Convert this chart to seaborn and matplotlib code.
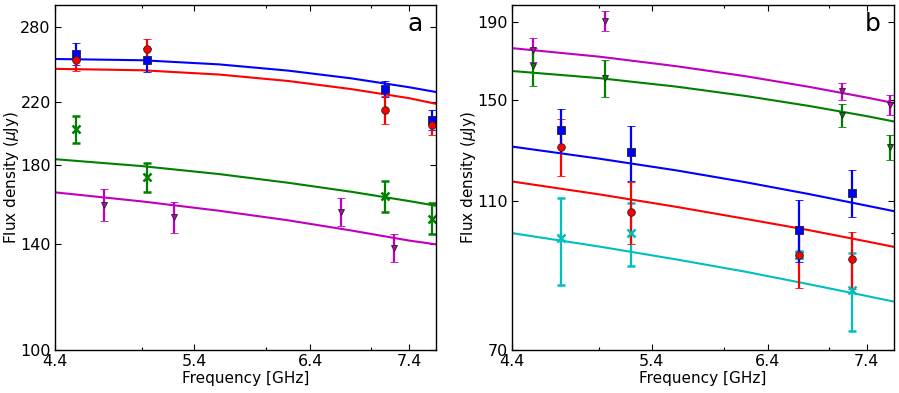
import numpy as np
import pandas as pd
import matplotlib
matplotlib.use('Agg')
import matplotlib.pyplot as plt
import seaborn as sns
from matplotlib.ticker import FixedLocator, FixedFormatter, NullFormatter, NullLocator

# 频率 (GHz)
freq_a = [4.54, 5.04, 7.14, 7.65]
freq_b = [4.73, 5.24, 6.70, 7.24]
fit_freq = [4.4, 5.0, 5.6, 6.2, 6.8, 7.4, 7.7]

# panel a 数据点
blue_a = [256.8, 252.0, 229.6, 208.0]
blue_a_err = [9.0, 9.5, 6.0, 6.5]
red_a = [251.5, 261.0, 214.8, 204.5]
red_a_err = [8.0, 8.0, 9.5, 6.5]
green_a = [202.0, 173.5, 163.3, 152.0]
green_a_err = [8.5, 8.0, 8.0, 7.5]
magenta_a = [158.8, 152.5, 155.2, 138.5]
magenta_a_err = [8.0, 7.5, 7.0, 6.0]

# panel a 拟合曲线
fit_a_blue = [252.6, 251.6, 248.3, 243.4, 237.5, 230.9, 227.4]
fit_a_red = [244.8, 243.7, 240.4, 235.5, 229.5, 223.0, 219.0]
fit_a_green = [183.6, 179.6, 175.1, 170.3, 165.5, 160.7, 158.3]
fit_a_magenta = [165.2, 160.5, 155.8, 151.1, 146.3, 141.7, 140.0]

# panel b 数据点
magenta_b = [174.4, 190.6, 153.8, 147.7]
magenta_b_err = [6.5, 6.0, 4.0, 4.5]
green_b = [165.9, 160.0, 143.1, 129.8]
green_b_err = [9.5, 9.0, 5.0, 5.0]
blue_b = [136.6, 127.7, 100.9, 113.0]
blue_b_err = [9.0, 10.5, 9.5, 8.0]
red_b = [130.0, 106.6, 93.4, 92.3]
red_b_err = [11.3, 10.0, 8.8, 8.0]
cyan_b = [98.3, 100.0, 93.5, 84.1]
cyan_b_err = [13.0, 9.5, 1.0, 10.0]

# panel b 拟合曲线
fit_b_magenta = [175.4, 170.9, 166.0, 161.0, 155.9, 150.9, 148.4]
fit_b_green = [163.6, 160.1, 156.0, 151.6, 147.1, 142.6, 140.3]
fit_b_blue = [130.0, 125.3, 120.9, 116.6, 112.5, 108.6, 106.8]
fit_b_red = [116.9, 112.4, 108.2, 104.3, 100.8, 97.4, 95.8]
fit_b_cyan = [99.9, 95.9, 92.2, 88.8, 85.5, 82.5, 81.1]

sns.set_style('ticks', {'xtick.direction': 'in', 'ytick.direction': 'in',
                        'axes.edgecolor': 'black', 'text.color': 'black',
                        'axes.labelcolor': 'black', 'xtick.color': 'black',
                        'ytick.color': 'black'})
plt.rcParams['font.family'] = ['DejaVu Sans']
plt.rcParams['mathtext.fontset'] = 'dejavusans'

C_B, C_R, C_G, C_M, C_C = '#0000ff', '#ff0000', '#008000', '#bf00bf', '#00bfbf'


def draw_points(ax, x, y, err, color, marker):
    if marker == 'x':
        kw = dict(markersize=6, markeredgewidth=1.8, markeredgecolor=color)
    elif marker == 'v':
        kw = dict(markersize=4, markeredgewidth=0.6, markeredgecolor='#222222')
    else:
        kw = dict(markersize=5.5, markeredgewidth=0.6, markeredgecolor='#222222')
    ax.errorbar(x, y, yerr=err, fmt=marker, color=color, markerfacecolor=color,
                ecolor=color, elinewidth=1.6, capsize=3.2, capthick=1.6, **kw)


def draw_fit(ax, vals, color):
    df = pd.DataFrame({'freq': fit_freq, 'flux': vals})
    sns.lineplot(data=df, x='freq', y='flux', ax=ax, color=color, linewidth=1.5,
                 estimator=None, sort=False)


def style_axis(ax, yticks, ylim, yminor, label):
    ax.set_xscale('log')
    ax.set_yscale('log')
    ax.set_xlim(4.4, 7.7)
    ax.set_ylim(*ylim)
    ax.xaxis.set_major_locator(FixedLocator([4.4, 5.4, 6.4, 7.4]))
    ax.xaxis.set_major_formatter(FixedFormatter(['4.4', '5.4', '6.4', '7.4']))
    ax.xaxis.set_minor_locator(FixedLocator([5, 6, 7]))
    ax.xaxis.set_minor_formatter(NullFormatter())
    ax.yaxis.set_major_locator(FixedLocator(yticks))
    ax.yaxis.set_major_formatter(FixedFormatter([str(t) for t in yticks]))
    if yminor:
        ax.yaxis.set_minor_locator(FixedLocator(yminor))
    else:
        ax.yaxis.set_minor_locator(NullLocator())
    ax.yaxis.set_minor_formatter(NullFormatter())
    ax.tick_params(which='both', direction='in', top=True, right=True,
                   labelsize=11.5, width=0.8, colors='black')
    ax.tick_params(which='major', length=4, pad=3)
    ax.tick_params(which='minor', length=2)
    for sp in ax.spines.values():
        sp.set_linewidth(1.0)
    ax.set_xlabel('Frequency [GHz]', fontsize=11, labelpad=1, color='black')
    ax.set_ylabel(r'Flux density ($\mu$Jy)', fontsize=11, labelpad=-0.5, color='black')
    ax.text(0.945, 0.945, label, transform=ax.transAxes, fontsize=18,
            ha='center', va='center', color='black')


fig = plt.figure(figsize=(8.99, 3.93), dpi=100)
ax_a = fig.add_axes([0.0612, 0.1094, 0.4238, 0.8779])
ax_b = fig.add_axes([0.5695, 0.1094, 0.4249, 0.8779])

# panel a
draw_fit(ax_a, fit_a_blue, C_B)
draw_fit(ax_a, fit_a_red, C_R)
draw_fit(ax_a, fit_a_green, C_G)
draw_fit(ax_a, fit_a_magenta, C_M)
draw_points(ax_a, freq_a, blue_a, blue_a_err, C_B, 's')
draw_points(ax_a, freq_a, red_a, red_a_err, C_R, 'o')
draw_points(ax_a, freq_a, green_a, green_a_err, C_G, 'x')
draw_points(ax_a, freq_b, magenta_a, magenta_a_err, C_M, 'v')
style_axis(ax_a, [100, 140, 180, 220, 280], (100, 300), None, 'a')

# panel b
draw_fit(ax_b, fit_b_magenta, C_M)
draw_fit(ax_b, fit_b_green, C_G)
draw_fit(ax_b, fit_b_blue, C_B)
draw_fit(ax_b, fit_b_red, C_R)
draw_fit(ax_b, fit_b_cyan, C_C)
draw_points(ax_b, freq_a, magenta_b, magenta_b_err, C_M, 'v')
draw_points(ax_b, freq_a, green_b, green_b_err, C_G, 'v')
draw_points(ax_b, freq_b, cyan_b, cyan_b_err, C_C, 'x')
draw_points(ax_b, freq_b, red_b, red_b_err, C_R, 'o')
draw_points(ax_b, freq_b, blue_b, blue_b_err, C_B, 's')
style_axis(ax_b, [70, 110, 150, 190], (70, 200), [100], 'b')

fig.savefig('out.png', dpi=100)
